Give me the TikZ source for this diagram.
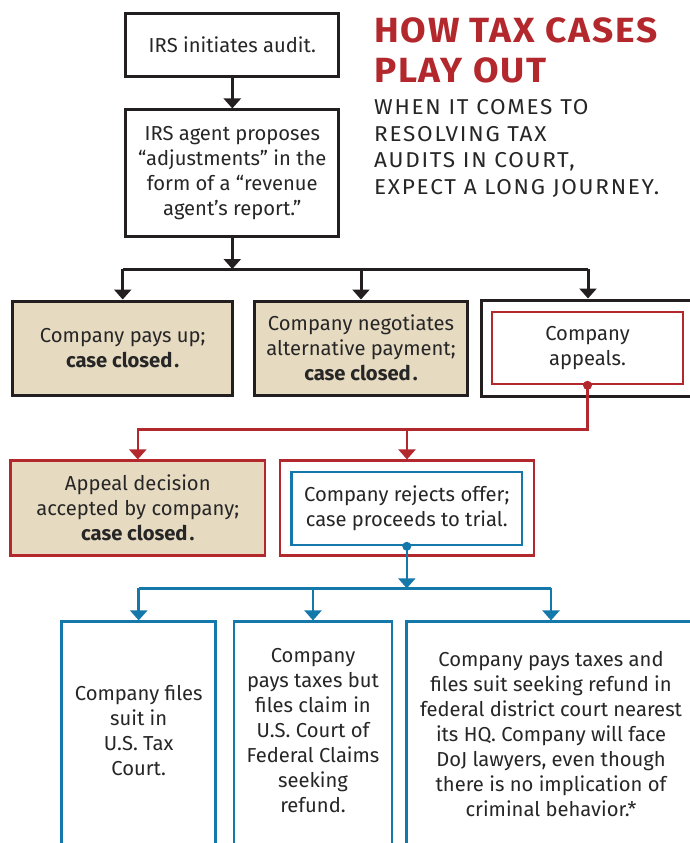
\documentclass[tikz,border=0pt]{standalone}
\usepackage{fontspec}
\setmainfont{Fira Sans}
\newfontfamily\headfont[FakeStretch=1.06,LetterSpace=5]{Fira Sans}
\newfontfamily\subfont[FakeStretch=1.05,LetterSpace=8]{Fira Sans}
\usetikzlibrary{arrows.meta}

\definecolor{ink}{HTML}{262626}
\definecolor{frame}{HTML}{231F20}
\definecolor{redline}{HTML}{B3282D}
\definecolor{blueline}{HTML}{1479AA}
\definecolor{sand}{HTML}{E6DAC1}

\begin{document}
\begin{tikzpicture}[x=1pt,y=-1pt,
  every node/.style={text=ink, inner sep=0pt, align=center,
    font=\fontsize{20.2}{25}\selectfont},
  size/.style 2 args={rectangle, minimum width=#1, minimum height=#2},
  blackbox/.style={draw=frame, line width=3pt, fill=white},
  closedbox/.style={blackbox, fill=sand},
  redbox/.style={draw=redline, line width=2.6pt, fill=white},
  redclosed/.style={redbox, fill=sand},
  bluebox/.style={draw=blueline, line width=2.6pt, fill=white},
  tip/.style={-{Triangle[width=17pt,length=10pt]}},
  blackline/.style={draw=frame, line width=3pt},
  redconn/.style={draw=redline, line width=2.6pt},
  blueconn/.style={draw=blueline, line width=2.6pt},
  title/.style={text=redline, align=left, anchor=north west,
    font=\headfont\fontsize{35}{39.6}\selectfont\bfseries},
  subtitle/.style={align=left, anchor=north west,
    font=\subfont\fontsize{21.5}{26.5}\selectfont}
]
\fill[white] (0,0) rectangle (690,843);
\clip (0,0) rectangle (690,843);

% heading
\node[title] (head) at (374,17.5) {HOW TAX CASES\\PLAY OUT};
\node[subtitle] (sub) at (374,99.5)
  {WHEN IT COMES TO\\RESOLVING TAX\\AUDITS IN COURT,\\EXPECT A LONG JOURNEY.};

% IRS steps
\node[blackbox, size={213pt}{63.4pt}] (b1) at (232.3,45) {IRS initiates audit.};
\node[blackbox, size={213pt}{126.7pt}] (b2) at (232.3,173.3)
  {IRS agent proposes\\“adjustments” in the\\form of a “revenue\\agent’s report.”};

% company responses
\node[closedbox, size={220pt}{94pt}] (A) at (122.7,348)
  {Company pays up;\\{\bfseries case closed\kern2pt.}};
\node[closedbox, size={213.7pt}{94pt}] (B) at (361,348)
  {Company negotiates\\alternative payment;\\{\bfseries case closed\kern2pt.}};
\node[blackbox, size={214pt}{96pt}] (Cout) at (588,348) {};
\node[redbox, size={191pt}{72pt}] (Cin) at (587.5,348) {Company\\appeals.};

% appeal outcomes
\node[redclosed, size={254.3pt}{95pt}] (D) at (137.8,508.2)
  {Appeal decision\\accepted by company;\\{\bfseries case closed\kern2pt.}};
\node[redbox, size={254pt}{95pt}] (E) at (407,508.2) {};
\node[bluebox, size={230.3pt}{73pt}] (Bl) at (406.8,508.5)
  {Company rejects offer;\\case proceeds to trial.};

% trial venues
\node[bluebox, size={154pt}{280pt}] (F) at (138.7,761.7) {};
\node[bluebox, size={158pt}{280pt}] (G) at (313,761.7) {};
\node[bluebox, size={288.6pt}{280pt}] (H) at (551,761.7) {};
\node (Ft) at (138.7,731) {Company files\\suit in\\U.S. Tax\\Court.};
\node (Gt) at (313,731)
  {Company\\pays taxes but\\files claim in\\U.S. Court of\\Federal Claims\\seeking\\refund.};
\node (Ht) at (551,734)
  {Company pays taxes and\\files suit seeking refund in\\federal district court nearest\\its HQ. Company will face\\DoJ lawyers, even though\\there is no implication of\\criminal behavior.*};

% junction points
\coordinate (tj) at (232.3,269);
\coordinate (rj) at (407,429.3);
\coordinate (bj) at (406.8,588.3);

% black connectors
\draw[blackline, tip] (b1) -- (b2);
\draw[blackline, tip] (b2) -- (tj);
\draw[blackline] (A.north |- tj) -- (Cout.north |- tj);
\draw[blackline, tip] (A.north |- tj) -- (A.north);
\draw[blackline, tip] (B.north |- tj) -- (B.north);
\draw[blackline, tip] (Cout.north |- tj) -- (Cout.north);

% red connectors
\draw[redconn, tip] (Cin.south) |- (rj) -| (D.north);
\draw[redconn, tip] (rj) -- (E.north);
\fill[redline] (Cin.south) circle (4.5);

% blue connectors
\draw[blueconn, tip] (Bl.south) -- (bj);
\draw[blueconn] (F.north |- bj) -- (H.north |- bj);
\draw[blueconn, tip] (F.north |- bj) -- (F.north);
\draw[blueconn, tip] (G.north |- bj) -- (G.north);
\draw[blueconn, tip] (H.north |- bj) -- (H.north);
\fill[blueline] (Bl.south) circle (4.5);
\end{tikzpicture}
\end{document}
